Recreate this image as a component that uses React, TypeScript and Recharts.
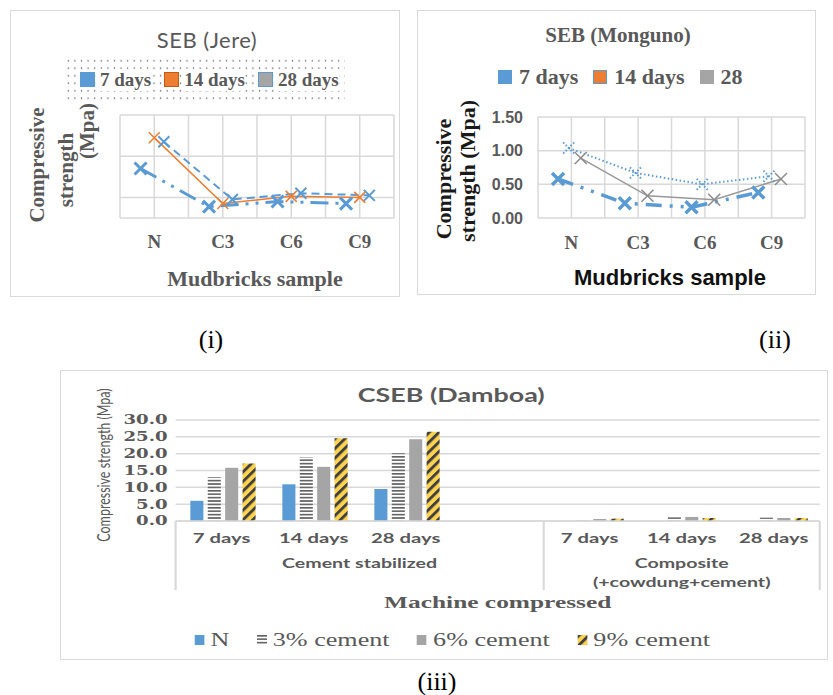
import React from "react";
import { LineChart, Line, BarChart, Bar, XAxis, YAxis, CartesianGrid } from "recharts";

// ---------- (i) SEB (Jere) ----------
const jereCats = ["N", "C3", "C6", "C9"];
const jere7 = [0.48, 0.11, 0.16, 0.14];
const jere14 = [0.78, 0.14, 0.21, 0.2];
const jere28 = [0.74, 0.18, 0.24, 0.22];
const jereYTicks = [0, 0.2, 0.4, 0.6, 0.8, 1];
const jereLegend = ["7 days", "14 days", "28 days"];

// ---------- (ii) SEB (Monguno) ----------
const mongCats = ["N", "C3", "C6", "C9"];
const mong7 = [0.58, 0.22, 0.16, 0.38];
const mong14 = [1.04, 0.67, 0.5, 0.62];
const mong28 = [0.89, 0.33, 0.27, 0.58];
const mongYTicks = [0, 0.5, 1, 1.5];
const mongLegend = ["7 days", "14 days", "28"];

// ---------- (iii) CSEB (Damboa) ----------
const dambCats = ["7 days", "14 days", "28 days", "", "7 days", "14 days", "28 days"];
const dambGroupOf = [0, 0, 0, 0, 1, 1, 1];
const dambGroupNames = [["Cement stabilized"], ["Composite", "(+cowdung+cement)"]];
const dambOuter = "Machine compressed";
const dambN = [6.0, 10.9, 9.5, null, null, null, null];
const damb3 = [13.0, 18.9, 20.1, null, 0.6, 1.1, 1.0];
const damb6 = [15.8, 16.1, 24.3, null, 0.6, 1.2, 0.9];
const damb9 = [17.1, 24.6, 26.5, null, 0.7, 0.9, 0.9];
const dambYTicks = [0, 5, 10, 15, 20, 25, 30];
const dambSeriesNames = ["N", "3% cement", "6% cement", "9% cement"];

// ---------- styles ----------
const BLUE = "#5B9BD5";
const ORANGE = "#ED7D31";
const GRAY = "#A5A5A5";
const GRID = "#D9D9D9";
const TEXT = "#595959";
const SERIF = '"Liberation Serif", "Times New Roman", serif';
const SANS = '"Liberation Sans", Arial, sans-serif';
const CALIBRI = 'Lato, "Open Sans", sans-serif';

// the reference draws the three series slightly staggered around each category
const JERE_SHIFT = [-0.2, 0, 0.14];
const MONG_SHIFT = [-0.2, -0.04, 0.14];

// panel (iii) is a horizontally stretched picture in the reference
const DW = 528;
const DS = 766 / DW;

const dambFills = [BLUE, "url(#dambStripe)", GRAY, "url(#dambHatch)"];

const stagger = (vals: number[], shift: number) => vals.map((v, i) => ({ x: i + shift, v }));
const halfTicks = (n: number) => Array.from({ length: 2 * n + 1 }, (_, k) => k / 2 - 0.5);

function xMark(id: string, color: string, r: number, w: number, dash?: string) {
  return (p: any) => {
    const k = `${id}-${p.index}`;
    if (p.cx == null || p.cy == null) return <g key={k} />;
    const { cx, cy } = p;
    return (
      <path
        key={k}
        d={`M${cx - r},${cy - r}L${cx + r},${cy + r}M${cx - r},${cy + r}L${cx + r},${cy - r}`}
        stroke={color}
        strokeWidth={w}
        strokeDasharray={dash}
        fill="none"
      />
    );
  };
}

function catTick(cats: string[], dy: number) {
  return (p: any) => {
    const v = p.payload.value;
    const label = Number.isInteger(v) ? cats[v] : "";
    return (
      <text x={p.x} y={p.y + dy} textAnchor="middle" fill={TEXT} fontFamily={SERIF} fontWeight={700} fontSize={19}>
        {label}
      </text>
    );
  };
}

function Square({ fill, border, size }: { fill: string; border?: string; size: number }) {
  return (
    <span
      style={{
        display: "inline-block",
        width: size,
        height: size,
        background: fill,
        boxSizing: "border-box",
        border: border ? `1.5px solid ${border}` : "none",
      }}
    />
  );
}

function PatternDefs() {
  return (
    <svg width={0} height={0} style={{ position: "absolute" }}>
      <defs>
        <pattern id="dambStripe" width="4" height="3.4" patternUnits="userSpaceOnUse">
          <rect width="4" height="3.4" fill="#fff" />
          <rect width="4" height="1.6" fill="#5f5f5f" />
        </pattern>
        <pattern id="dambHatch" width="5.5" height="5.5" patternUnits="userSpaceOnUse" patternTransform="rotate(35)">
          <rect width="5.5" height="5.5" fill="#FFD34E" />
          <rect width="2.3" height="5.5" fill="#404040" />
        </pattern>
      </defs>
    </svg>
  );
}

function JerePanel() {
  const s7 = stagger(jere7, JERE_SHIFT[0]);
  const s14 = stagger(jere14, JERE_SHIFT[1]);
  const s28 = stagger(jere28, JERE_SHIFT[2]);
  const legendSwatch = [
    { fill: BLUE, border: undefined },
    { fill: ORANGE, border: "#C55A11" },
    { fill: GRAY, border: BLUE },
  ];
  return (
    <div style={{ position: "absolute", left: 10, top: 10, width: 390, height: 287, border: `1px solid ${GRID}`, boxSizing: "border-box" }}>
      <div style={{ position: "absolute", left: 96, width: 200, top: 15, textAlign: "center", fontFamily: CALIBRI, fontSize: 22, lineHeight: "28px", color: TEXT, letterSpacing: 0.5 }}>
        SEB (Jere)
      </div>
      <div
        style={{
          position: "absolute", left: 54, top: 46, width: 280, height: 45, boxSizing: "border-box", paddingLeft: 15,
          display: "flex", alignItems: "center", gap: 13,
          backgroundImage: "radial-gradient(circle, #808080 0.7px, transparent 1.1px)", backgroundSize: "6.6px 7.5px",
          fontFamily: SERIF, fontWeight: 700, fontSize: 19, color: TEXT,
        }}
      >
        {jereLegend.map((name, i) => (
          <span key={name} style={{ display: "flex", alignItems: "center", gap: 5 }}>
            <Square size={15} fill={legendSwatch[i].fill} border={legendSwatch[i].border} />
            <span style={{ background: "#fff" }}>{name}</span>
          </span>
        ))}
      </div>
      <svg width={388} height={285} style={{ position: "absolute", left: 0, top: 0, pointerEvents: "none" }}>
        <g fontFamily={SERIF} fontWeight={700} fontSize={21} fill={TEXT} textAnchor="middle">
          <text transform="translate(26,154) rotate(-90)" dominantBaseline="central">Compressive</text>
          <text transform="translate(55,159) rotate(-90)" dominantBaseline="central">strength</text>
          <text transform="translate(76,120) rotate(-90)" dominantBaseline="central">(Mpa)</text>
          <text x={244} y={275} fontSize={22}>Mudbricks sample</text>
        </g>
      </svg>
      <div style={{ position: "absolute", left: 0, top: 0 }}>
        <LineChart width={388} height={285} margin={{ top: 104, right: 5, bottom: 48, left: 109 }}>
          <CartesianGrid stroke={GRID} strokeWidth={1.5} />
          <XAxis
            type="number"
            dataKey="x"
            domain={[-0.5, 3.5]}
            ticks={halfTicks(jereCats.length)}
            interval={0}
            axisLine={false}
            tickLine={false}
            tickSize={0}
            tickMargin={0}
            height={30}
            tick={catTick(jereCats, 30)}
          />
          <YAxis hide domain={[0, 1]} ticks={jereYTicks} />
          <Line data={s7} dataKey="v" stroke={BLUE} strokeWidth={3} strokeDasharray="18 7 3 7 3 7" dot={xMark("j7", BLUE, 6, 3)} isAnimationActive={false} />
          <Line data={s28} dataKey="v" stroke={BLUE} strokeWidth={2} strokeDasharray="8 5" dot={xMark("j28", BLUE, 5.5, 2)} isAnimationActive={false} />
          <Line data={s14} dataKey="v" stroke={ORANGE} strokeWidth={1.5} dot={xMark("j14", ORANGE, 5.5, 1.5)} isAnimationActive={false} />
        </LineChart>
      </div>
    </div>
  );
}

function MongunoPanel() {
  const s7 = stagger(mong7, MONG_SHIFT[0]);
  const s14 = stagger(mong14, MONG_SHIFT[1]);
  const s28 = stagger(mong28, MONG_SHIFT[2]);
  const legendSwatch = [
    { fill: BLUE, border: undefined },
    { fill: ORANGE, border: BLUE },
    { fill: GRAY, border: undefined },
  ];
  return (
    <div style={{ position: "absolute", left: 417, top: 10, width: 399, height: 285, border: `1px solid ${GRID}`, boxSizing: "border-box" }}>
      <div style={{ position: "absolute", left: 100, width: 200, top: 12, textAlign: "center", fontFamily: SERIF, fontWeight: 700, fontSize: 21, lineHeight: "24px", color: TEXT }}>
        SEB (Monguno)
      </div>
      <div style={{ position: "absolute", left: 80, top: 53, height: 26, display: "flex", alignItems: "center", gap: 15, fontFamily: SERIF, fontWeight: 700, fontSize: 22, color: TEXT }}>
        {mongLegend.map((name, i) => (
          <span key={name} style={{ display: "flex", alignItems: "center", gap: 7 }}>
            <Square size={14} fill={legendSwatch[i].fill} border={legendSwatch[i].border} />
            <span>{name}</span>
          </span>
        ))}
      </div>
      <svg width={397} height={283} style={{ position: "absolute", left: 0, top: 0, pointerEvents: "none" }}>
        <g fontFamily={SERIF} fontWeight={700} fontSize={22} fill="#1a1a1a" textAnchor="middle">
          <text transform="translate(25,168) rotate(-90)" dominantBaseline="central">Compressive</text>
          <text transform="translate(49,160) rotate(-90)" dominantBaseline="central">strength (Mpa)</text>
        </g>
        <text x={252} y={274} textAnchor="middle" fontFamily={SANS} fontWeight={700} fontSize={22} fill="#111">
          Mudbricks sample
        </text>
      </svg>
      <div style={{ position: "absolute", left: 0, top: 0 }}>
        <LineChart width={397} height={283} margin={{ top: 106, right: 10, bottom: 46, left: 70 }}>
          <CartesianGrid stroke={GRID} strokeWidth={1.5} />
          <XAxis
            type="number"
            dataKey="x"
            domain={[-0.5, 3.5]}
            ticks={halfTicks(mongCats.length)}
            interval={0}
            axisLine={false}
            tickLine={false}
            tickSize={0}
            tickMargin={0}
            height={30}
            tick={catTick(mongCats, 31)}
          />
          <YAxis
            width={50}
            domain={[0, 1.5]}
            ticks={mongYTicks}
            interval={0}
            axisLine={false}
            tickLine={false}
            tickSize={0}
            tickMargin={15}
            tickFormatter={(v: number) => v.toFixed(2)}
            tick={{ fill: TEXT, fontFamily: SANS, fontWeight: 700, fontSize: 16 }}
          />
          <Line data={s7} dataKey="v" stroke={BLUE} strokeWidth={3.5} strokeDasharray="16 8 3 8 3 8" dot={xMark("m7", BLUE, 6, 3.5)} isAnimationActive={false} />
          <Line data={s14} dataKey="v" stroke={BLUE} strokeWidth={2} strokeDasharray="1.5 2.5" dot={xMark("m14", BLUE, 5.5, 2, "1.5 2")} isAnimationActive={false} />
          <Line data={s28} dataKey="v" stroke="#999999" strokeWidth={1.5} dot={xMark("m28", "#8c8c8c", 6, 1.5)} isAnimationActive={false} />
        </LineChart>
      </div>
    </div>
  );
}

function DambTick(p: any) {
  const { x, y, index, payload } = p;
  const n = dambCats.length;
  const band = p.width && p.visibleTicksCount ? p.width / p.visibleTicksCount : 445 / n;
  const g = dambGroupOf[index];
  const first = index === 0 || dambGroupOf[index - 1] !== g;
  const members = dambGroupOf.filter((k) => k === g).length;
  const parts: React.ReactNode[] = [
    <text key="c" x={x} y={y + 22} textAnchor="middle" fill={TEXT} fontFamily={CALIBRI} fontWeight={700} fontSize={14}>
      {payload.value}
    </text>,
  ];
  if (first) {
    parts.push(<line key="l" x1={x - band / 2} x2={x - band / 2} y1={y} y2={y + 69} stroke={GRID} strokeWidth={1.5} />);
    const gx = x + ((members - 1) / 2) * band;
    dambGroupNames[g].forEach((t, k) =>
      parts.push(
        <text key={"g" + k} x={gx} y={y + 47 + k * 19} textAnchor="middle" fill={TEXT} fontFamily={CALIBRI} fontWeight={700} fontSize={13.5}>
          {t}
        </text>
      )
    );
  }
  if (index === n - 1) {
    parts.push(<line key="r" x1={x + band / 2} x2={x + band / 2} y1={y} y2={y + 69} stroke={GRID} strokeWidth={1.5} />);
  }
  if (index === 0) {
    parts.push(
      <text key="o" x={x + ((n - 1) / 2) * band} y={y + 87} textAnchor="middle" fill={TEXT} fontFamily={SERIF} fontWeight={700} fontSize={17.5}>
        {dambOuter}
      </text>
    );
  }
  return <g>{parts}</g>;
}

function DamboaPanel() {
  const data = dambCats.map((cat, i) => ({ cat, n: dambN[i], c3: damb3[i], c6: damb6[i], c9: damb9[i] }));
  const keys = ["n", "c3", "c6", "c9"];
  return (
    <div style={{ position: "absolute", left: 60, top: 370, width: 768, height: 290, border: `1px solid ${GRID}`, boxSizing: "border-box" }}>
      <div style={{ position: "absolute", left: 0, top: 0, width: DW, height: 288, transform: `scaleX(${DS})`, transformOrigin: "0 0" }}>
        <div style={{ position: "absolute", left: 169, width: 200, top: 12, textAlign: "center", fontFamily: CALIBRI, fontWeight: 700, fontSize: 18.5, lineHeight: "24px", color: TEXT }}>
          CSEB (Damboa)
        </div>
        <svg width={DW} height={288} style={{ position: "absolute", left: 0, top: 0, pointerEvents: "none" }}>
          <text transform="translate(29,94) rotate(-90)" textAnchor="middle" dominantBaseline="central" fontFamily={CALIBRI} fontSize={12.5} fill={TEXT}>
            Compressive strength (Mpa)
          </text>
        </svg>
        <div style={{ position: "absolute", left: 0, top: 0 }}>
          <BarChart width={DW} height={288} data={data} margin={{ top: 49, right: 5, bottom: 48, left: 19 }} barCategoryGap="16%" barGap={3}>
            <CartesianGrid vertical={false} stroke={GRID} strokeWidth={1.5} />
            <XAxis
              dataKey="cat"
              interval={0}
              height={90}
              tickSize={0}
              tickMargin={0}
              tickLine={false}
              axisLine={{ stroke: GRID, strokeWidth: 1.5 }}
              tick={DambTick}
            />
            <YAxis
              width={60}
              domain={[0, 30]}
              ticks={dambYTicks}
              interval={0}
              axisLine={false}
              tickLine={false}
              tickSize={0}
              tickMargin={5.5}
              tickFormatter={(v: number) => v.toFixed(1)}
              tick={{ fill: TEXT, fontFamily: '"DejaVu Serif", serif', fontWeight: 700, fontSize: 12.5 }}
            />
            {keys.map((k, i) => (
              <Bar key={k} dataKey={k} name={dambSeriesNames[i]} fill={dambFills[i]} isAnimationActive={false} />
            ))}
          </BarChart>
        </div>
        <div style={{ position: "absolute", left: 92, top: 257, height: 24, display: "flex", alignItems: "center", gap: 19, fontFamily: SERIF, fontSize: 18, color: TEXT }}>
          {dambSeriesNames.map((name, i) => (
            <span key={name} style={{ display: "flex", alignItems: "center", gap: 4 }}>
              <svg width={7} height={10}>
                <rect width={7} height={10} fill={dambFills[i]} />
              </svg>
              <span>{name}</span>
            </span>
          ))}
        </div>
      </div>
    </div>
  );
}

function Caption({ x, y, text }: { x: number; y: number; text: string }) {
  return (
    <div style={{ position: "absolute", left: x - 50, top: y - 15, width: 100, textAlign: "center", fontFamily: SERIF, fontSize: 26, lineHeight: "30px", color: "#000" }}>
      {text}
    </div>
  );
}

export default function App() {
  return (
    <div style={{ position: "absolute", left: 0, top: 0, width: 833, height: 695, background: "#fff", overflow: "hidden" }}>
      <PatternDefs />
      <JerePanel />
      <MongunoPanel />
      <DamboaPanel />
      <Caption x={211} y={340} text="(i)" />
      <Caption x={775} y={340} text="(ii)" />
      <Caption x={437} y={682} text="(iii)" />
    </div>
  );
}
